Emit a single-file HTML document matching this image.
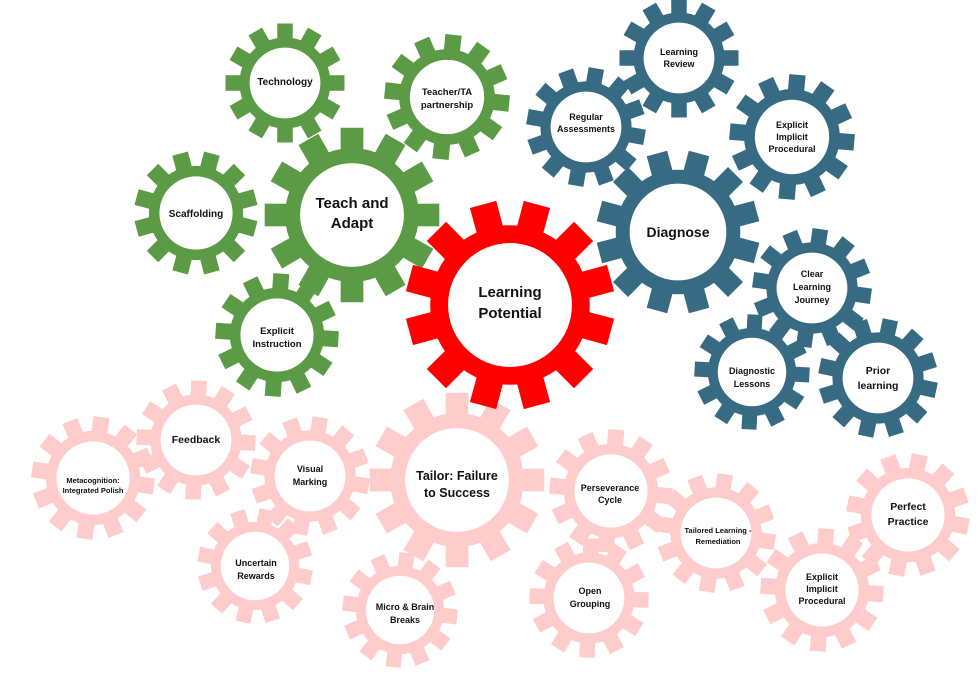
<!DOCTYPE html>
<html><head><meta charset="utf-8"><style>
html,body{margin:0;padding:0;background:#fff;width:980px;height:689px;overflow:hidden}
svg text{font-family:"Liberation Sans",sans-serif;font-weight:bold;fill:#111;text-anchor:middle}
</style></head><body>
<svg id="s" width="980" height="689" viewBox="0 0 980 689" xmlns="http://www.w3.org/2000/svg">
<g id="gears"></g>
<g id="labels">
<text x="285" y="85" font-size="10">Technology</text>
<text x="447" y="95" font-size="9.5">Teacher/TA</text><text x="447" y="108" font-size="9.5">partnership</text>
<text x="196" y="217" font-size="10">Scaffolding</text>
<text x="352" y="208" font-size="15">Teach and</text><text x="352" y="228" font-size="15">Adapt</text>
<text x="277" y="334" font-size="9.5">Explicit</text><text x="277" y="347" font-size="9.5">Instruction</text>
<text x="679" y="55" font-size="9">Learning</text><text x="679" y="67" font-size="9">Review</text>
<text x="586" y="120" font-size="9">Regular</text><text x="586" y="132" font-size="9">Assessments</text>
<text x="792" y="128" font-size="9">Explicit</text><text x="792" y="140" font-size="9">Implicit</text><text x="792" y="152" font-size="9">Procedural</text>
<text x="678" y="237" font-size="14">Diagnose</text>
<text x="812" y="277" font-size="9">Clear</text><text x="812" y="290" font-size="9">Learning</text><text x="812" y="303" font-size="9">Journey</text>
<text x="752" y="374" font-size="9">Diagnostic</text><text x="752" y="387" font-size="9">Lessons</text>
<text x="878" y="374" font-size="10.5">Prior</text><text x="878" y="389" font-size="10.5">learning</text>
<text x="510" y="297" font-size="15">Learning</text><text x="510" y="318" font-size="15">Potential</text>
<text x="196" y="443" font-size="10.5">Feedback</text>
<text x="93" y="483" font-size="7.5">Metacognition:</text><text x="93" y="493" font-size="7.5">Integrated Polish</text>
<text x="310" y="472" font-size="9">Visual</text><text x="310" y="485" font-size="9">Marking</text>
<text x="457" y="480" font-size="12.5">Tailor: Failure</text><text x="457" y="497" font-size="12.5">to Success</text>
<text x="610" y="491" font-size="9">Perseverance</text><text x="610" y="503" font-size="9">Cycle</text>
<text x="256" y="566" font-size="9">Uncertain</text><text x="256" y="579" font-size="9">Rewards</text>
<text x="405" y="610" font-size="9">Micro &amp; Brain</text><text x="405" y="623" font-size="9">Breaks</text>
<text x="590" y="594" font-size="9">Open</text><text x="590" y="607" font-size="9">Grouping</text>
<text x="718" y="533" font-size="7.5">Tailored Learning -</text><text x="718" y="544" font-size="7.5">Remediation</text>
<text x="908" y="510" font-size="10.5">Perfect</text><text x="908" y="525" font-size="10.5">Practice</text>
<text x="822" y="580" font-size="9">Explicit</text><text x="822" y="592" font-size="9">Implicit</text><text x="822" y="604" font-size="9">Procedural</text>
</g>
</svg>
<script>
var G="#5b9b45",B="#376b84",R="#ff0000",P="#ffcccc";
var gears=[
[93,478,62,P,8],[196,440,60,P,3],[310,476,60,P,10],[457,480,88,P,0],[611,491,62,P,5],[255,566,58,P,12],[400,610,58,P,7],[589,598,60,P,2],[716,533,60,P,9],[822,590,62,P,4],[908,515,62,P,11],
[285,83,60,G,0],[447,97,63,G,6],[196,213,62,G,15],[277,335,62,G,4],[352,215,88,G,0],
[679,58,60,B,0],[586,127,60,B,10],[792,137,63,B,5],[678,232,82,B,15],[812,288,60,B,8],[752,372,58,B,3],[878,378,60,B,12],
[510,305,105,R,15]
];
var g=document.getElementById("gears"),ns="http://www.w3.org/2000/svg";
gears.forEach(function(a){
 var cx=a[0],cy=a[1],Ro=a[2],col=a[3],rot=a[4]*Math.PI/180;
 var Rb=Ro*0.76,Ri=Ro*0.59,n=12,per=2*Math.PI/n,d="";
 var tipH=0.13, baseH=0.17;
 for(var i=0;i<n;i++){
  var c=rot-Math.PI/2+i*per;
  var pts=[[Rb,c-per/2],[Rb,c-baseH],[Ro,c-tipH],[Ro,c+tipH],[Rb,c+baseH]];
  pts.forEach(function(p,j){var x=cx+p[0]*Math.cos(p[1]),y=cy+p[0]*Math.sin(p[1]);d+=(i==0&&j==0?"M":"L")+x.toFixed(1)+","+y.toFixed(1);});
 }
 d+="Z M"+(cx+Ri)+","+cy+" A"+Ri+","+Ri+" 0 1,0 "+(cx-Ri)+","+cy+" A"+Ri+","+Ri+" 0 1,0 "+(cx+Ri)+","+cy+"Z";
 var p=document.createElementNS(ns,"path");p.setAttribute("d",d);p.setAttribute("fill",col);p.setAttribute("fill-rule","evenodd");g.appendChild(p);
});
</script>
</body></html>
